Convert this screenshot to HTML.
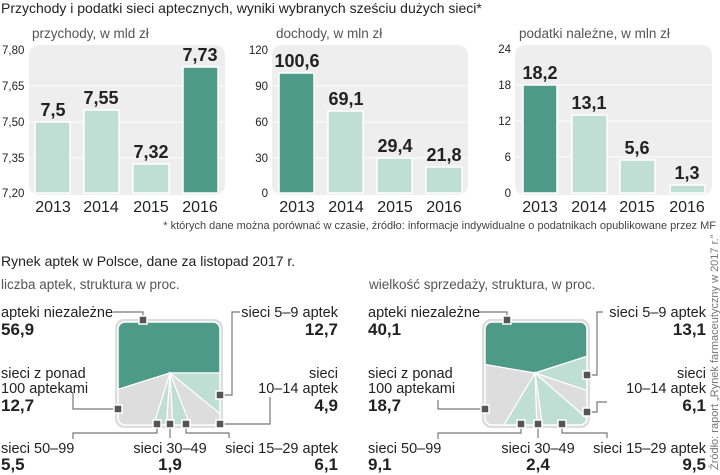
<!DOCTYPE html>
<html><head><meta charset="utf-8"><style>
body{margin:0;background:#fff;width:720px;height:475px;overflow:hidden}
svg{display:block}
text{font-family:"Liberation Sans",sans-serif;fill:#222}
.t{font-size:14px}
.s{font-size:13.5px;fill:#555}
.tk{font-size:11.5px;fill:#666}
.yr{font-size:16px;fill:#222}
.v{font-family:"Liberation Sans Narrow","Liberation Sans",sans-serif;font-weight:bold;font-size:18px;fill:#1a1a1a}
.lb{font-size:14.5px;fill:#222}
.lv{font-family:"Liberation Sans Narrow","Liberation Sans",sans-serif;font-weight:bold;font-size:17px;fill:#1a1a1a}
.ld{stroke:#777;stroke-width:1.2;fill:none}
.mk{fill:#555;stroke:#fff;stroke-width:1.5}
.gl{stroke:#fff;stroke-width:1}
.bl{fill:#bfded4;stroke:#fff;stroke-width:1.5}
.bd{fill:#4e9a88;stroke:#fff;stroke-width:1.5}
</style></head><body>
<svg width="720" height="475" xmlns="http://www.w3.org/2000/svg">
<text class="t" x="1" y="13">Przychody i podatki sieci aptecznych, wyniki wybranych sześciu dużych sieci*</text>

<text class="s" x="32" y="38">przychody, w mld zł</text>
<rect x="29" y="45" width="196" height="150" rx="10" fill="#eeeeee"/>
<g class="gl"><line x1="29" x2="225" y1="86" y2="86"/><line x1="29" x2="225" y1="122" y2="122"/><line x1="29" x2="225" y1="158" y2="158"/></g>
<g class="tk"><text x="2" y="54">7,80</text><text x="2" y="90">7,65</text><text x="2" y="126">7,50</text><text x="2" y="162">7,35</text><text x="2" y="197">7,20</text></g>
<rect class="bl" x="35" y="122" width="35" height="71"/>
<rect class="bl" x="84" y="110" width="35" height="83"/>
<rect class="bl" x="133" y="164" width="36" height="29"/>
<rect class="bd" x="183" y="67" width="35" height="126"/>
<g class="v" text-anchor="middle"><text x="53" y="116">7,5</text><text x="101" y="104">7,55</text><text x="151" y="158">7,32</text><text x="200" y="61">7,73</text></g>
<g class="yr" text-anchor="middle"><text x="53" y="212">2013</text><text x="101" y="212">2014</text><text x="151" y="212">2015</text><text x="200" y="212">2016</text></g>

<text class="s" x="276" y="38">dochody, w mln zł</text>
<rect x="272" y="45" width="196" height="150" rx="10" fill="#eeeeee"/>
<g class="gl"><line x1="272" x2="468" y1="86" y2="86"/><line x1="272" x2="468" y1="122" y2="122"/><line x1="272" x2="468" y1="158" y2="158"/></g>
<g class="tk" text-anchor="end"><text x="268" y="54">120</text><text x="268" y="90">90</text><text x="268" y="126">60</text><text x="268" y="162">30</text><text x="268" y="197">0</text></g>
<rect class="bd" x="279" y="73" width="35" height="120"/>
<rect class="bl" x="328" y="111" width="35" height="82"/>
<rect class="bl" x="377" y="158" width="35" height="35"/>
<rect class="bl" x="426" y="167" width="36" height="26"/>
<g class="v" text-anchor="middle"><text x="297" y="67">100,6</text><text x="346" y="105">69,1</text><text x="395" y="152">29,4</text><text x="444" y="161">21,8</text></g>
<g class="yr" text-anchor="middle"><text x="297" y="212">2013</text><text x="346" y="212">2014</text><text x="395" y="212">2015</text><text x="444" y="212">2016</text></g>

<text class="s" x="519" y="38">podatki należne, w mln zł</text>
<rect x="515" y="45" width="197" height="150" rx="10" fill="#eeeeee"/>
<g class="gl"><line x1="515" x2="712" y1="85" y2="85"/><line x1="515" x2="712" y1="121" y2="121"/><line x1="515" x2="712" y1="157" y2="157"/></g>
<g class="tk" text-anchor="end"><text x="511" y="53">24</text><text x="511" y="89">18</text><text x="511" y="125">12</text><text x="511" y="161">6</text><text x="511" y="197">0</text></g>
<rect class="bd" x="523" y="85" width="34" height="108"/>
<rect class="bl" x="572" y="115" width="35" height="78"/>
<rect class="bl" x="620" y="160" width="35" height="33"/>
<rect class="bl" x="670" y="185" width="35" height="8"/>
<g class="v" text-anchor="middle"><text x="540" y="79">18,2</text><text x="589" y="109">13,1</text><text x="637" y="154">5,6</text><text x="687" y="179">1,3</text></g>
<g class="yr" text-anchor="middle"><text x="540" y="212">2013</text><text x="589" y="212">2014</text><text x="637" y="212">2015</text><text x="687" y="212">2016</text></g>

<text x="716" y="229" text-anchor="end" style="font-size:11px;fill:#444">* których dane można porównać w czasie, źródło: informacje indywidualne o podatnikach opublikowane przez MF</text>

<text class="t" x="1" y="266">Rynek aptek w Polsce, dane za listopad 2017 r.</text>
<text class="s" x="1" y="289">liczba aptek, struktura w proc.</text>
<text class="s" x="369" y="289">wielkość sprzedaży, struktura, w proc.</text>

<defs>
<clipPath id="c1"><rect x="118" y="322" width="102" height="103" rx="7"/></clipPath>
<clipPath id="c2"><rect x="485" y="322" width="102" height="103" rx="7"/></clipPath>
</defs>

<rect x="115" y="319" width="108" height="109" rx="9" fill="#ddd"/>
<g clip-path="url(#c1)" stroke="#fff" stroke-width="1.2">
<polygon points="170,373 100,395 100,300 240,300 240,373" fill="#4e9a88"/>
<polygon points="170,373 240,373 240,430" fill="#bfded4"/>
<polygon points="170,373 240,430 192,430" fill="#ddd"/>
<polygon points="170,373 192,430 173,430" fill="#bfded4"/>
<polygon points="170,373 173,430 166,430" fill="#ddd"/>
<polygon points="170,373 166,430 152,430" fill="#bfded4"/>
<polygon points="170,373 152,430 100,430 100,395" fill="#ddd"/>
</g>
<rect x="118" y="322" width="102" height="103" rx="7" fill="none" stroke="#fff" stroke-width="1.5"/>
<g class="ld">
<polyline points="113,312 143,312 143,320"/>
<polyline points="240,312 232,312 232,395 222,395"/>
<polyline points="73,393 73,409 116,409"/>
<polyline points="270,397 270,424 222,424"/>
<polyline points="73,439 73,433 157,433 157,426"/>
<polyline points="170,426 170,438"/>
<polyline points="186,426 186,433 229,433 229,438"/>
</g>
<g class="mk"><rect x="139" y="316" width="8" height="8"/><rect x="216" y="391" width="8" height="8"/><rect x="114" y="405" width="8" height="8"/><rect x="216" y="420" width="8" height="8"/><rect x="153" y="420" width="8" height="8"/><rect x="166" y="420" width="8" height="8"/><rect x="182" y="420" width="8" height="8"/></g>
<g class="lb"><text x="1" y="317">apteki niezależne</text><text x="338" y="317" text-anchor="end">sieci 5–9 aptek</text>
<text x="1" y="378">sieci z ponad</text><text x="1" y="393">100 aptekami</text>
<text x="338" y="378" text-anchor="end">sieci</text><text x="338" y="393" text-anchor="end">10–14 aptek</text>
<text x="1" y="453">sieci 50–99</text><text x="170" y="453" text-anchor="middle">sieci 30–49</text><text x="338" y="453" text-anchor="end">sieci 15–29 aptek</text></g>
<g class="lv"><text x="1" y="335">56,9</text><text x="338" y="335" text-anchor="end">12,7</text><text x="1" y="411">12,7</text><text x="338" y="411" text-anchor="end">4,9</text><text x="1" y="470">5,5</text><text x="170" y="470" text-anchor="middle">1,9</text><text x="338" y="470" text-anchor="end">6,1</text></g>

<rect x="482" y="319" width="108" height="109" rx="9" fill="#ddd"/>
<g clip-path="url(#c2)" stroke="#fff" stroke-width="1.2">
<polygon points="535,373 470,362 470,300 600,300 600,352" fill="#4e9a88"/>
<polygon points="535,373 600,352 600,395" fill="#bfded4"/>
<polygon points="535,373 600,395 600,430" fill="#ddd"/>
<polygon points="535,373 600,430 543,430" fill="#bfded4"/>
<polygon points="535,373 543,430 537,430" fill="#ddd"/>
<polygon points="535,373 537,430 501,430" fill="#bfded4"/>
<polygon points="535,373 501,430 470,430 470,362" fill="#ddd"/>
</g>
<rect x="485" y="322" width="102" height="103" rx="7" fill="none" stroke="#fff" stroke-width="1.5"/>
<g class="ld">
<polyline points="478,312 507,312 507,320"/>
<polyline points="603,312 597,312 597,375 589,375"/>
<polyline points="438,400 438,409 483,409"/>
<polyline points="607,402 597,402 597,412 589,412"/>
<polyline points="438,439 438,433 521,433 521,426"/>
<polyline points="538,426 538,438"/>
<polyline points="562,426 562,433 607,433 607,438"/>
</g>
<g class="mk"><rect x="503" y="316" width="8" height="8"/><rect x="583" y="371" width="8" height="8"/><rect x="481" y="405" width="8" height="8"/><rect x="583" y="408" width="8" height="8"/><rect x="517" y="420" width="8" height="8"/><rect x="534" y="420" width="8" height="8"/><rect x="558" y="420" width="8" height="8"/></g>
<g class="lb"><text x="368" y="317">apteki niezależne</text><text x="706" y="317" text-anchor="end">sieci 5–9 aptek</text>
<text x="368" y="378">sieci z ponad</text><text x="368" y="393">100 aptekami</text>
<text x="706" y="378" text-anchor="end">sieci</text><text x="706" y="393" text-anchor="end">10–14 aptek</text>
<text x="368" y="453">sieci 50–99</text><text x="538" y="453" text-anchor="middle">sieci 30–49</text><text x="706" y="453" text-anchor="end">sieci 15–29 aptek</text></g>
<g class="lv"><text x="368" y="335">40,1</text><text x="706" y="335" text-anchor="end">13,1</text><text x="368" y="411">18,7</text><text x="706" y="411" text-anchor="end">6,1</text><text x="368" y="470">9,1</text><text x="538" y="470" text-anchor="middle">2,4</text><text x="706" y="470" text-anchor="end">9,5</text></g>

<text transform="translate(718,470) rotate(-90)" style="font-size:11px;fill:#777">Źródło: raport „Rynek farmaceutyczny w 2017 r.”</text>
</svg>
</body></html>
